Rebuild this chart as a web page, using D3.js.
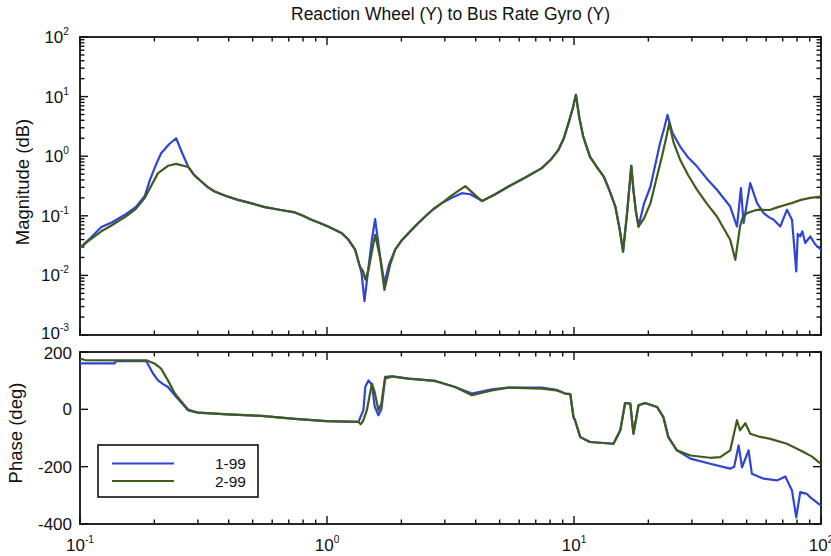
<!DOCTYPE html>
<html><head><meta charset="utf-8">
<script src="https://cdn.jsdelivr.net/npm/d3@7/dist/d3.min.js"></script>
<style>body{margin:0;background:#fff}svg{display:block}text{font-family:"Liberation Sans",Arial,Helvetica,sans-serif;fill:#111}</style>
</head><body><svg id="c" width="831" height="556"></svg>
<script>
const title = "Reaction Wheel (Y) to Bus Rate Gyro (Y)";
const magLabel = "Magnitude (dB)";
const phaseLabel = "Phase (deg)";
const seriesNames = ["1-99", "2-99"];
const magTickExps = [2, 1, 0, -1, -2, -3];
const xTickExps = [-1, 0, 1, 2];
const phaseTicks = [200, 0, -200, -400];

// Series 1-99 magnitude [freq Hz, magnitude]
const mag1 = [[0.1,0.029],[0.11,0.042],[0.122,0.065],[0.135,0.078],[0.152,0.104],[0.168,0.14],[0.183,0.216],[0.192,0.40],[0.203,0.72],[0.213,1.12],[0.23,1.6],[0.245,2.0],[0.26,1.1],[0.274,0.67],[0.29,0.48],[0.31,0.376],[0.33,0.30],[0.351,0.256],[0.39,0.215],[0.436,0.185],[0.5,0.16],[0.56,0.14],[0.65,0.125],[0.741,0.114],[0.8,0.10],[0.865,0.086],[0.94,0.075],[1.01,0.066],[1.08,0.058],[1.148,0.051],[1.22,0.04],[1.30,0.027],[1.38,0.011],[1.418,0.0037],[1.463,0.011],[1.52,0.04],[1.566,0.088],[1.60,0.045],[1.64,0.021],[1.708,0.0074],[1.78,0.015],[1.888,0.027],[2.0,0.038],[2.137,0.051],[2.3,0.07],[2.497,0.0975],[2.7,0.13],[2.917,0.163],[3.2,0.2],[3.516,0.24],[3.8,0.23],[4.24,0.178],[4.8,0.23],[5.43,0.31],[6.3,0.43],[7.41,0.63],[8.1,0.9],[8.65,1.28],[9.1,2.0],[9.5,3.58],[9.9,6.5],[10.18,10.7],[10.5,4.5],[10.9,2.13],[11.6,0.986],[12.4,0.65],[13.2,0.456],[14.0,0.25],[14.7,0.143],[15.3,0.06],[15.8,0.025],[16.4,0.111],[17.06,0.69],[17.4,0.273],[17.8,0.12],[18.25,0.066],[19.2,0.16],[20.4,0.31],[22.3,1.65],[23.2,3.0],[23.9,4.93],[25.0,2.5],[26.9,1.45],[29.0,0.95],[31.5,0.67],[34.5,0.42],[37.9,0.273],[42.9,0.143],[45.7,0.066],[47.4,0.291],[48.6,0.0755],[51.7,0.353],[55.1,0.163],[58.6,0.111],[61.5,0.095],[64.3,0.086],[68.4,0.066],[72.8,0.126],[76.3,0.086],[79.4,0.0117],[80.5,0.05],[82.4,0.045],[84.0,0.055],[86.3,0.035],[90.5,0.045],[94.8,0.033],[100,0.027]];
// Series 2-99 magnitude
const mag2 = [[0.1,0.029],[0.11,0.04],[0.122,0.055],[0.135,0.07],[0.152,0.095],[0.168,0.13],[0.183,0.2],[0.195,0.33],[0.207,0.52],[0.227,0.69],[0.245,0.745],[0.274,0.66],[0.29,0.48],[0.31,0.376],[0.33,0.30],[0.351,0.256],[0.39,0.215],[0.436,0.185],[0.5,0.16],[0.56,0.14],[0.65,0.125],[0.741,0.114],[0.8,0.10],[0.865,0.086],[0.94,0.075],[1.01,0.066],[1.08,0.058],[1.148,0.051],[1.22,0.04],[1.30,0.027],[1.36,0.014],[1.40,0.0117],[1.43,0.0085],[1.47,0.012],[1.566,0.048],[1.64,0.02],[1.708,0.0057],[1.80,0.015],[1.888,0.027],[2.0,0.038],[2.137,0.051],[2.3,0.07],[2.497,0.0975],[2.7,0.13],[2.917,0.163],[3.2,0.22],[3.63,0.315],[3.9,0.24],[4.24,0.176],[4.8,0.23],[5.43,0.31],[6.3,0.43],[7.41,0.63],[8.1,0.9],[8.65,1.28],[9.1,2.0],[9.5,3.58],[9.9,6.5],[10.18,10.7],[10.5,4.5],[10.9,2.13],[11.6,0.986],[12.4,0.65],[13.2,0.456],[14.0,0.25],[14.7,0.143],[15.3,0.06],[15.8,0.025],[16.4,0.111],[17.06,0.69],[17.4,0.273],[17.8,0.12],[18.25,0.066],[19.2,0.09],[20.4,0.163],[21.5,0.40],[22.7,0.986],[23.6,2.0],[24.3,3.58],[25.3,1.7],[26.9,0.87],[29.0,0.48],[31.5,0.273],[34.5,0.16],[37.9,0.0975],[42.9,0.0396],[45.0,0.0183],[47.0,0.066],[48.0,0.09],[50.1,0.111],[55.1,0.126],[62,0.125],[66,0.137],[71,0.15],[76,0.163],[83,0.185],[90.5,0.2],[100,0.21]];
// Series 1-99 phase [freq Hz, deg]
const phase1 = [[0.1,160],[0.138,160],[0.14,168],[0.1856,168],[0.1975,125],[0.207,101],[0.217,88],[0.227,78],[0.249,37],[0.274,-3.5],[0.3006,-11.7],[0.397,-17.5],[0.542,-23],[0.741,-33],[0.994,-41],[1.34,-44],[1.404,-3],[1.43,80],[1.472,101],[1.52,85],[1.56,10],[1.615,-21],[1.66,0],[1.719,107],[1.83,115],[2.137,107],[2.74,99],[3.30,78],[3.86,55],[4.65,70],[5.43,76],[7.41,76],[8.5,68],[9.21,55],[9.66,53],[9.95,-27],[10.1,-38],[10.6,-97],[11.6,-114],[14.45,-120],[15.4,-73],[16.1,22],[16.9,20],[17.4,-85],[18.25,14],[19.4,22],[21.7,8],[23.0,-27],[24.1,-97],[26.1,-143],[29.6,-172],[35.6,-190],[42.9,-207],[44.5,-200],[46.4,-126],[47.9,-202],[50.9,-143],[52.5,-225],[58.6,-242],[66.3,-248],[71.7,-234],[76.3,-283],[79.4,-377],[82.4,-289],[87.7,-295],[90.5,-307],[100,-336]];
// Series 2-99 phase
const phase2 = [[0.1,177],[0.105,172],[0.1856,171],[0.2,160],[0.213,142],[0.227,101],[0.242,55],[0.274,-1],[0.3006,-11.7],[0.397,-17.5],[0.542,-23],[0.741,-33],[0.994,-41],[1.34,-44],[1.37,-52],[1.40,-40],[1.45,-3],[1.52,90],[1.56,60],[1.615,-3.5],[1.66,20],[1.719,113],[1.83,115],[2.137,107],[2.74,99],[3.30,78],[3.86,49],[4.65,66],[5.43,76],[7.41,72],[8.5,66],[9.21,55],[9.66,53],[9.95,-27],[10.1,-38],[10.6,-97],[11.6,-114],[14.45,-120],[15.4,-73],[16.1,22],[16.9,20],[17.4,-85],[18.25,14],[19.4,22],[21.7,8],[23.0,-27],[24.1,-97],[26.1,-143],[29.6,-161],[35.6,-169],[39.1,-167],[42.9,-143],[45.7,-38],[47.0,-73],[49.4,-48],[51.7,-85],[56,-95],[62.3,-103],[72.8,-120],[85.0,-149],[92,-165],[100,-190]];

const colors = ["#2f45d3", "#3f5c1d"];
const FS = 17;

const svg = d3.select("#c");
const L = 80, R = 821;
const x = d3.scaleLog().domain([0.1, 100]).range([L, R]);
const yM = d3.scaleLog().domain([1e-3, 1e2]).range([335, 37]);
const yP = d3.scaleLinear().domain([-400, 200]).range([524, 352]);

function sup(sel, base, exp) {
  sel.text(base);
  sel.append("tspan").attr("dy", -8).attr("font-size", FS*0.6).text(exp);
}

const defs = svg.append("defs");
defs.append("clipPath").attr("id","cm").append("rect").attr("x",L).attr("y",37).attr("width",R-L).attr("height",335-37);
defs.append("clipPath").attr("id","cp").append("rect").attr("x",L).attr("y",352).attr("width",R-L).attr("height",524-352);

function frame(y0, y1) {
  svg.append("rect").attr("x",L).attr("y",y0).attr("width",R-L).attr("height",y1-y0)
    .attr("fill","none").attr("stroke","#111").attr("stroke-width",1.8);
  x.ticks().forEach(t => {
    const major = Math.abs(Math.log10(t) - Math.round(Math.log10(t))) < 1e-9;
    const len = major ? 8 : 4.5;
    const px = x(t);
    svg.append("line").attr("x1",px).attr("x2",px).attr("y1",y1).attr("y2",y1-len).attr("stroke","#111").attr("stroke-width",1.4);
    svg.append("line").attr("x1",px).attr("x2",px).attr("y1",y0).attr("y2",y0+len).attr("stroke","#111").attr("stroke-width",1.4);
  });
}

// Magnitude axes
frame(37, 335);
yM.ticks().forEach(t => {
  const major = Math.abs(Math.log10(t) - Math.round(Math.log10(t))) < 1e-9;
  const len = major ? 8 : 4.5;
  const py = yM(t);
  svg.append("line").attr("x1",L).attr("x2",L+len).attr("y1",py).attr("y2",py).attr("stroke","#111").attr("stroke-width",1.4);
  svg.append("line").attr("x1",R).attr("x2",R-len).attr("y1",py).attr("y2",py).attr("stroke","#111").attr("stroke-width",1.4);
});
magTickExps.forEach(e => {
  const t = svg.append("text").attr("x",69).attr("y",yM(Math.pow(10,e))+(e === -3 ? 4 : 6)).attr("text-anchor","end").attr("font-size",FS);
  sup(t, "10", e);
});

// Phase axes
frame(352, 524);
phaseTicks.forEach(v => {
  const py = yP(v);
  svg.append("line").attr("x1",L).attr("x2",L+8).attr("y1",py).attr("y2",py).attr("stroke","#111").attr("stroke-width",1.4);
  svg.append("line").attr("x1",R).attr("x2",R-8).attr("y1",py).attr("y2",py).attr("stroke","#111").attr("stroke-width",1.4);
  svg.append("text").attr("x",72).attr("y",py+(v === 200 ? 7 : 6)).attr("text-anchor","end").attr("font-size",FS).text(v);
});
xTickExps.forEach(e => {
  const t = svg.append("text").attr("x",x(Math.pow(10,e))).attr("y",551).attr("text-anchor","middle").attr("font-size",FS);
  sup(t, "10", e);
});

// lines
const lineM = d3.line().x(d => x(d[0])).y(d => yM(d[1]));
const lineP = d3.line().x(d => x(d[0])).y(d => yP(d[1]));
[mag1, mag2].forEach((s,i) => svg.append("path").attr("d", lineM(s)).attr("clip-path","url(#cm)")
  .attr("fill","none").attr("stroke",colors[i]).attr("stroke-width",2.2).attr("stroke-linejoin","round"));
[phase1, phase2].forEach((s,i) => svg.append("path").attr("d", lineP(s)).attr("clip-path","url(#cp)")
  .attr("fill","none").attr("stroke",colors[i]).attr("stroke-width",2.2).attr("stroke-linejoin","round"));

// labels
svg.append("text").attr("x",(L+R)/2).attr("y",20).attr("text-anchor","middle").attr("font-size",17.5).text(title);
svg.append("text").attr("transform","translate(29,182) rotate(-90)").attr("text-anchor","middle").attr("font-size",18.5).text(magLabel);
svg.append("text").attr("transform","translate(22,433) rotate(-90)").attr("text-anchor","middle").attr("font-size",18.5).text(phaseLabel);

// legend
const lg = svg.append("g");
lg.append("rect").attr("x",98).attr("y",445).attr("width",160).attr("height",52).attr("fill","#fff").attr("stroke","#111").attr("stroke-width",1.6);
seriesNames.forEach((n,i) => {
  const ly = 463.5 + i*17.5;
  lg.append("line").attr("x1",112).attr("x2",174).attr("y1",ly).attr("y2",ly).attr("stroke",colors[i]).attr("stroke-width",2.2);
  lg.append("text").attr("x",246).attr("y",ly+5.5).attr("text-anchor","end").attr("font-size",15.5).text(n);
});
</script></body></html>
